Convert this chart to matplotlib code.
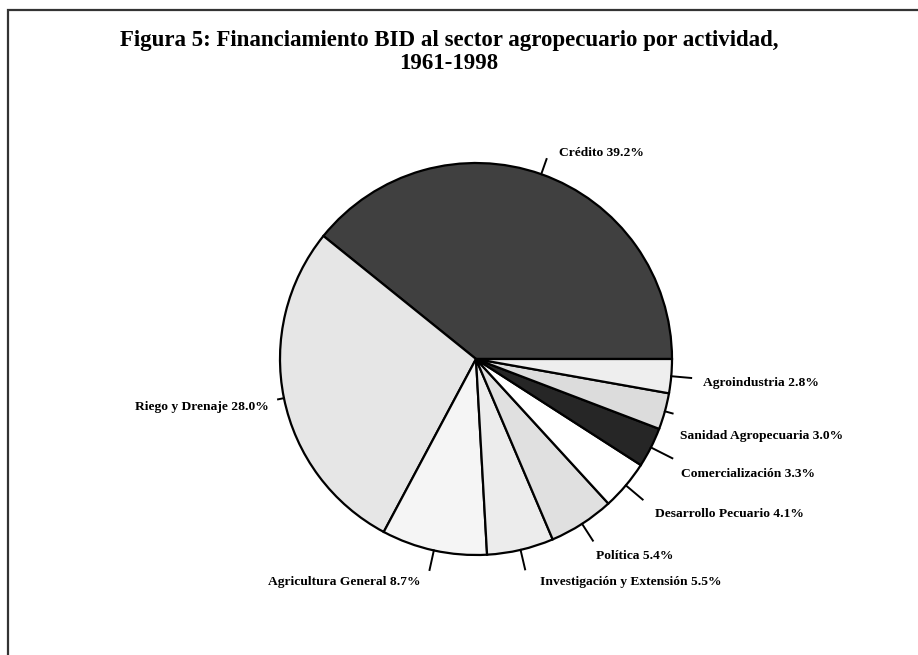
import numpy as np
import matplotlib.pyplot as plt
from matplotlib.patches import Rectangle

W, H = 918, 655

# data
labels = ['Crédito', 'Riego y Drenaje', 'Agricultura General',
          'Investigación y Extensión', 'Política', 'Desarrollo Pecuario',
          'Comercialización', 'Sanidad Agropecuaria', 'Agroindustria']
shares = [39.2, 28.0, 8.7, 5.5, 5.4, 4.1, 3.3, 3.0, 2.8]
colors = ['#404040', '#e6e6e6', '#f5f5f5', '#ececec', '#e0e0e0',
          '#ffffff', '#262626', '#dcdcdc', '#eeeeee']

# label anchor in picture pixels (x, y, horizontal alignment) and leader lengths
label_pos = [(601, 153, 'center'), (269, 407, 'right'), (344, 582, 'center'),
             (631, 582, 'center'), (635, 556, 'center'), (729, 514, 'center'),
             (748, 474, 'center'), (762, 436, 'center'), (761, 383, 'center')]
leader_len = [16, 6, 20, 20, 20, 22, 24, 8, 20]

cx, cy, r = 476, H - 359, 196

plt.rcParams['font.family'] = ['Liberation Serif', 'DejaVu Serif']
fig = plt.figure(figsize=(W / 100, H / 100), dpi=100)
ax = fig.add_axes([0, 0, 1, 1])

ax.add_patch(Rectangle((8, -20), W + 20, H - 10 + 20, fill=False,
                       edgecolor='#333333', linewidth=1.6))

wedges, _ = ax.pie(shares, colors=colors, startangle=0, counterclock=True,
                   center=(cx, cy), radius=r,
                   wedgeprops=dict(edgecolor='black', linewidth=1.6))
ax.set_xlim(0, W)
ax.set_ylim(0, H)
ax.set_aspect('equal')
ax.axis('off')

for w, lab, val, (tx, ty, ha), ln in zip(wedges, labels, shares, label_pos, leader_len):
    mid = np.deg2rad((w.theta1 + w.theta2) / 2)
    x0, y0 = cx + r * np.cos(mid), cy + r * np.sin(mid)
    x1, y1 = cx + (r + ln) * np.cos(mid), cy + (r + ln) * np.sin(mid)
    ax.plot([x0, x1], [y0, y1], color='black', linewidth=1.4)
    ax.text(tx, H - ty, '{} {:.1f}%'.format(lab, val), ha=ha, va='center',
            fontsize=9.7, fontweight='bold')

ax.text(W / 2 - 10, H - 52,
        'Figura 5: Financiamiento BID al sector agropecuario por actividad,\n1961-1998',
        ha='center', va='center', fontsize=16.5, fontweight='bold', linespacing=1.12)

fig.savefig('out.png', dpi=100)
